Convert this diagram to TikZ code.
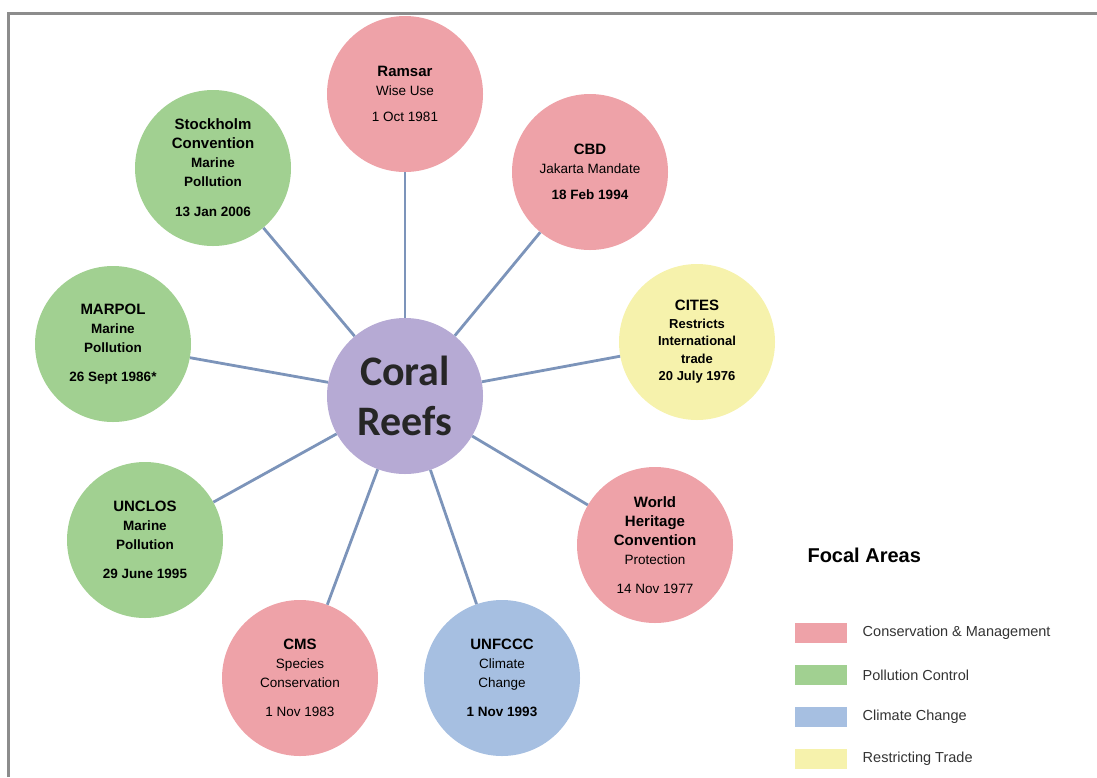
\documentclass[tikz,border=0pt]{standalone}
\usepackage{xcolor}
\usepackage{fontspec}
\setmainfont{Liberation Sans}
\newfontfamily\calibri{Carlito}
\usepackage{tikz}
\usetikzlibrary{positioning}
\definecolor{conspink}{RGB}{238,162,168}
\definecolor{pollgreen}{RGB}{161,208,145}
\definecolor{climblue}{RGB}{166,191,225}
\definecolor{tradeyellow}{RGB}{246,242,172}
\definecolor{reefpurple}{RGB}{182,170,212}
\definecolor{spokeblue}{RGB}{124,148,186}
\newcommand{\cname}[1]{{\fontsize{15}{19}\selectfont\bfseries #1}}

\begin{document}
\begin{tikzpicture}[x=1pt, y=-1pt,
  focal/.style={circle, minimum size=156pt, inner sep=0pt, align=center, font=\fontsize{13.5}{19}\selectfont},
  spoke/.style={line width=2.8pt, color=spokeblue},
  swatch/.style={rectangle, minimum width=52pt, minimum height=20pt, inner sep=0pt},
  key/.style={font=\fontsize{14.5}{17}\selectfont, text=black!80}]
\useasboundingbox (0,0) rectangle (1097,777);
\draw[line width=3pt, color=black!45] (8,777) -- (8,13) -- (1097,13);

\node[focal, fill=reefpurple, font=\calibri\bfseries\fontsize{42}{50}\selectfont, text=black!85] (c) at (405,396) {Coral\\Reefs};
\node[focal, fill=conspink] (ra) at (405,94) {\cname{Ramsar}\\Wise Use\\[7pt]1 Oct 1981};
\node[focal, fill=conspink] (cbd) at (590,172) {\cname{CBD}\\Jakarta Mandate\\[7pt]\textbf{18 Feb 1994}};
\node[focal, fill=tradeyellow, font=\bfseries\fontsize{13}{17.5}\selectfont] (ci) at (697,342) {\cname{CITES}\\Restricts\\International\\trade\\20 July 1976};
\node[focal, fill=conspink] (wh) at (655,545) {\cname{World}\\\cname{Heritage}\\\cname{Convention}\\Protection\\[10pt]14 Nov 1977};
\node[focal, fill=climblue] (un) at (502,678) {\cname{UNFCCC}\\Climate\\Change\\[10pt]\textbf{1 Nov 1993}};
\node[focal, fill=conspink] (cms) at (300,678) {\cname{CMS}\\Species\\Conservation\\[10pt]1 Nov 1983};
\node[focal, fill=pollgreen] (ul) at (145,540) {\cname{UNCLOS}\\\textbf{Marine}\\\textbf{Pollution}\\[10pt]\textbf{29 June 1995}};
\node[focal, fill=pollgreen] (mp) at (113,344) {\cname{MARPOL}\\\textbf{Marine}\\\textbf{Pollution}\\[10pt]\textbf{26 Sept 1986*}};
\node[focal, fill=pollgreen] (st) at (213,168) {\cname{Stockholm}\\\cname{Convention}\\\textbf{Marine}\\\textbf{Pollution}\\[11pt]\textbf{13 Jan 2006}};

\draw[spoke] (c) -- (ra);
\draw[spoke] (c) -- (cbd);
\draw[spoke] (c) -- (ci);
\draw[spoke] (c) -- (wh);
\draw[spoke] (c) -- (un);
\draw[spoke] (c) -- (cms);
\draw[spoke] (c) -- (ul);
\draw[spoke] (c) -- (mp);
\draw[spoke] (c) -- (st);

% legend
\node[anchor=west, font=\bfseries\fontsize{20}{24}\selectfont] (fa) at (804,555) {Focal Areas};
\node[swatch, fill=conspink] (s1) at (821,633) {};
\node[swatch, fill=pollgreen, below=21.5pt of s1] (s2) {};
\node[swatch, fill=climblue, below=21.5pt of s2] (s3) {};
\node[swatch, fill=tradeyellow, below=21.5pt of s3] (s4) {};
\node[key, right=12pt of s1] (k1) {Conservation \& Management};
\node[key, right=12pt of s2] (k2) {Pollution Control};
\node[key, right=12pt of s3] (k3) {Climate Change};
\node[key, right=12pt of s4] (k4) {Restricting Trade};
\end{tikzpicture}
\end{document}
